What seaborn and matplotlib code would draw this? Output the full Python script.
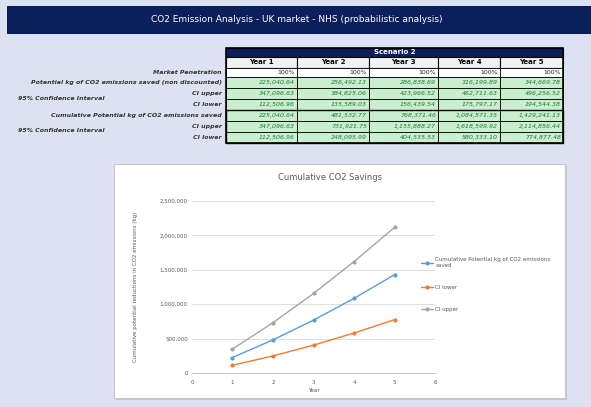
import matplotlib
matplotlib.use("Agg")
import matplotlib.pyplot as plt
from matplotlib.patches import Rectangle
from matplotlib.ticker import FuncFormatter
import seaborn as sns
import pandas as pd

# ---------------- data ----------------
years = [1, 2, 3, 4, 5]
year_labels = ["Year 1", "Year 2", "Year 3", "Year 4", "Year 5"]
market_penetration = ["100%", "100%", "100%", "100%", "100%"]
potential_saved = [225040.64, 256492.13, 286838.69, 316199.89, 344669.78]
potential_ci_upper = [347096.63, 384825.06, 423966.52, 462711.63, 496256.52]
potential_ci_lower = [112506.96, 135589.03, 156439.54, 175797.17, 194544.38]
cumulative_saved = [225040.64, 481532.77, 768371.46, 1084571.35, 1429241.13]
cumulative_ci_upper = [347096.63, 731921.75, 1155888.27, 1618599.92, 2114856.44]
cumulative_ci_lower = [112506.96, 248095.99, 404535.53, 580333.10, 774877.48]

row_labels = ["Potential kg of CO2 emissions saved (non discounted)", "CI upper", "CI lower",
              "Cumulative Potential kg of CO2 emissions saved", "CI upper", "CI lower"]
series_names = ["Cumulative Potential kg of CO2 emissions\nsaved", "CI lower", "CI upper"]

# ---------------- figure ----------------
sns.set_theme(style="white")
plt.rcParams["font.family"] = ["DejaVu Sans"]
W, H = 591, 407
fig = plt.figure(figsize=(W / 100, H / 100), dpi=100)
fig.patch.set_facecolor("#dde2f3")

ov = fig.add_axes([0, 0, 1, 1], zorder=0)
ov.set_xlim(0, W)
ov.set_ylim(H, 0)
ov.axis("off")

navy = "#0b1f5c"
# banner
ov.add_patch(Rectangle((7, 6), W - 7, 28, facecolor=navy, edgecolor="none"))
ov.text(297, 20, "CO2 Emission Analysis - UK market - NHS (probabilistic analysis)",
        color="white", fontsize=6.5, ha="center", va="center")

# table
cols = [226, 297, 369, 438, 500, 563]
ov.add_patch(Rectangle((cols[0], 48), cols[-1] - cols[0], 9, facecolor=navy, edgecolor="black", lw=0.8))
ov.text((cols[0] + cols[-1]) / 2, 52.5, "Scenario 2", color="white", fontsize=5,
        fontweight="bold", ha="center", va="center")
for i in range(5):
    x0, x1 = cols[i], cols[i + 1]
    ov.add_patch(Rectangle((x0, 57), x1 - x0, 11, facecolor="#f2f2f2", edgecolor="black", lw=0.8))
    ov.text((x0 + x1) / 2, 62.5, year_labels[i], fontsize=5, fontweight="bold",
            ha="center", va="center", color="black")
    ov.add_patch(Rectangle((x0, 68), x1 - x0, 9, facecolor="white", edgecolor="black", lw=0.6))
    ov.text(x1 - 2, 72.5, market_penetration[i], fontsize=4.5, ha="right", va="center", color="#222222")
ov.text(222, 72.5, "Market Penetration", fontsize=4.5, style="italic", fontweight="bold",
        ha="right", va="center", color="#333333")

rows = [potential_saved, potential_ci_upper, potential_ci_lower,
        cumulative_saved, cumulative_ci_upper, cumulative_ci_lower]
for r, vals in enumerate(rows):
    y0 = 77 + r * 11
    for i in range(5):
        x0, x1 = cols[i], cols[i + 1]
        ov.add_patch(Rectangle((x0, y0), x1 - x0, 11, facecolor="#c9efcf", edgecolor="black", lw=0.6))
        ov.text(x1 - 2, y0 + 5.5, f"{vals[i]:,.2f}", fontsize=4.5, style="italic",
                ha="right", va="center", color="#1e7a2e")
    ov.text(222, y0 + 5.5, row_labels[r], fontsize=4.5, style="italic", fontweight="bold",
            ha="right", va="center", color="#333333")
ov.add_patch(Rectangle((cols[0], 48), cols[-1] - cols[0], 95, facecolor="none", edgecolor="black", lw=1.2))
ov.add_patch(Rectangle((cols[0], 110), cols[-1] - cols[0], 33, facecolor="none", edgecolor="black", lw=1.0))
ov.text(18, 98, "95% Confidence Interval", fontsize=4.5, style="italic", fontweight="bold",
        ha="left", va="center", color="#333333")
ov.text(18, 131, "95% Confidence Interval", fontsize=4.5, style="italic", fontweight="bold",
        ha="left", va="center", color="#333333")

# chart panel
ov.add_patch(Rectangle((116, 166), 451, 234, facecolor="#c4c6cc", edgecolor="none"))
ov.add_patch(Rectangle((114, 164), 451, 234, facecolor="white", edgecolor="#c8c8c8", lw=0.8))
ov.text(330, 178, "Cumulative CO2 Savings", fontsize=6, ha="center", va="center", color="#595959")

# ---------------- line chart ----------------
df = pd.DataFrame({
    "Year": years * 3,
    "Value": cumulative_saved + cumulative_ci_lower + cumulative_ci_upper,
    "Series": [series_names[0]] * 5 + [series_names[1]] * 5 + [series_names[2]] * 5,
})
palette = {series_names[0]: "#5b9bd5", series_names[1]: "#ed7d31", series_names[2]: "#a5a5a5"}

ax = fig.add_axes([192 / W, 1 - 373 / H, (435 - 192) / W, (373 - 201) / H], zorder=2)
sns.lineplot(data=df, x="Year", y="Value", hue="Series", palette=palette, hue_order=series_names,
             marker="o", markersize=3, markeredgewidth=0, linewidth=1, ax=ax)
ax.set_facecolor("white")
ax.set_xlim(0, 6)
ax.set_ylim(0, 2500000)
ax.set_xticks(range(0, 7))
ax.set_yticks(range(0, 2500001, 500000))
ax.yaxis.set_major_formatter(FuncFormatter(lambda v, p: f"{int(v):,}"))
ax.grid(axis="y", color="#d9d9d9", lw=0.6)
for s in ["top", "right", "left"]:
    ax.spines[s].set_visible(False)
ax.spines["bottom"].set_color("#bfbfbf")
ax.spines["bottom"].set_linewidth(0.6)
ax.tick_params(axis="both", labelsize=4, colors="#595959", length=0, pad=3)
ax.tick_params(axis="x", length=2, color="#bfbfbf", width=0.5)
ax.set_xlabel("Year", fontsize=4, color="#595959", labelpad=2)
ax.set_ylabel("Cumulative potential reductions in CO2 emissions (kg)", fontsize=4,
              color="#595959", labelpad=16)
leg = ax.legend(loc="upper left", bbox_to_anchor=(0.935, 0.685), frameon=False, fontsize=4,
                labelcolor="#595959", handlelength=2, labelspacing=3.0, borderaxespad=0,
                handletextpad=0.5)

fig.savefig("out.png", dpi=100, facecolor=fig.get_facecolor())
